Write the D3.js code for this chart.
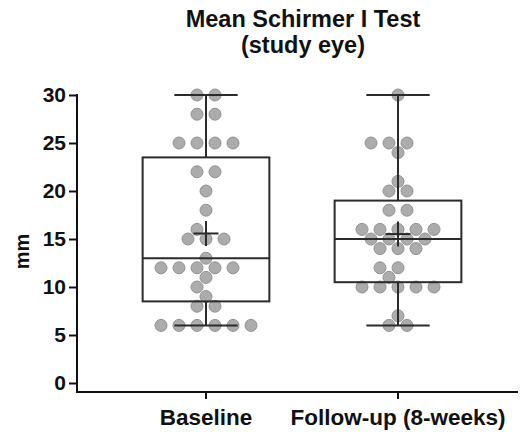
<!DOCTYPE html>
<html>
<head>
<meta charset="utf-8">
<script src="https://cdn.jsdelivr.net/npm/d3@7"></script>
<style>
    body { margin: 0; background: #fff; }
    text { font-family: Arial, "Liberation Sans", sans-serif; font-weight: bold; fill: #111; }
</style>
</head>
<body>
<div id="canvas"></div>
<script>
"use strict"

/* chart values */
let categories = ["Baseline", "Follow-up (8-weeks)"];
let baselineValues = [30, 30, 28, 28, 25, 25, 25, 25, 22, 22, 20, 18, 16, 15, 15, 15, 13,
    12, 12, 12, 12, 12, 11, 10, 9, 8, 8, 6, 6, 6, 6, 6, 6];
let followUpValues = [30, 25, 25, 25, 24, 21, 20, 20, 18, 18, 16, 16, 16, 16, 16, 15, 15, 15, 15,
    14, 14, 14, 12, 12, 11, 10, 10, 10, 10, 10, 7, 6, 6];
let yTicks = [0, 5, 10, 15, 20, 25, 30];
let titleLines = ["Mean Schirmer I Test", "(study eye)"];
let yLabel = "mm";

let seriesValues = [baselineValues, followUpValues];

/* svg canvas */
let drawing = d3.select("#canvas")
    .append("svg")
    .attr("width", 521)
    .attr("height", 432);

/* scales */
let xScale = d3.scaleBand()
    .domain(categories)
    .range([110, 494])
    .paddingInner(0.34)
    .paddingOuter(0.17);

let yScale = d3.scaleLinear()
    .domain([0, 30])
    .range([383, 95]);

let axisLeft = 77;
let axisBottom = 392;
let dotRadius = 6;

/* GraphPad style percentile: position (n+1)p */
function percentile(sorted, p) {
    let n = sorted.length;
    let pos = (n + 1) * p;
    let lo = Math.floor(pos);
    if (lo < 1) return sorted[0];
    if (lo >= n) return sorted[n - 1];
    let frac = pos - lo;
    return sorted[lo - 1] + frac * (sorted[lo] - sorted[lo - 1]);
}

/* simple row beeswarm: each value row is spread evenly, the row centre is
   shifted on a half-step grid until it does not hit rows already placed */
function swarm(values) {
    let rows = d3.rollups(values, v => v.length, d => d).sort((a, b) => a[0] - b[0]);
    let step = dotRadius * 3;
    let placed = [];
    rows.forEach(function (row) {
        let y = yScale(row[0]);
        let k = row[1];
        for (let j = 0; j < 20; j++) {
            let shift = (j % 2 === 0 ? 1 : -1) * Math.ceil(j / 2) * step / 2;
            let xs = d3.range(k).map(i => shift + (i - (k - 1) / 2) * step);
            let hit = xs.some(x => placed.some(p =>
                (p.x - x) * (p.x - x) + (p.y - y) * (p.y - y) < (2 * dotRadius - 0.5) * (2 * dotRadius - 0.5)));
            if (!hit) {
                xs.forEach(x => placed.push({ x: x, y: y, value: row[0] }));
                break;
            }
        }
    });
    return placed;
}

/* title */
drawing.append("text")
    .attr("x", 303)
    .attr("y", 27)
    .attr("text-anchor", "middle")
    .style("font-size", "23.5px")
    .text(titleLines[0]);

drawing.append("text")
    .attr("x", 303)
    .attr("y", 53)
    .attr("text-anchor", "middle")
    .style("font-size", "23.5px")
    .text(titleLines[1]);

/* dots first, the box lines sit on top of them */
seriesValues.forEach(function (values, i) {
    let cx = xScale(categories[i]) + xScale.bandwidth() / 2;
    drawing.append("g")
        .selectAll("circle")
        .data(swarm(values))
        .join("circle")
        .attr("cx", d => cx + d.x)
        .attr("cy", d => d.y)
        .attr("r", dotRadius)
        .attr("fill", "#acacac")
        .attr("stroke", "#929292")
        .attr("stroke-width", 1);
});

/* box and whiskers */
seriesValues.forEach(function (values, i) {
    let sorted = values.slice().sort((a, b) => a - b);
    let q1 = percentile(sorted, 0.25);
    let med = percentile(sorted, 0.5);
    let q3 = percentile(sorted, 0.75);
    let lo = sorted[0];
    let hi = sorted[sorted.length - 1];
    let mean = d3.mean(values);

    let left = xScale(categories[i]);
    let w = xScale.bandwidth();
    let cx = left + w / 2;
    let capHalf = w / 4;
    let g = drawing.append("g")
        .attr("stroke", "#2b2b2b")
        .attr("stroke-width", 2)
        .attr("fill", "none");

    /* whiskers */
    g.append("line").attr("x1", cx).attr("x2", cx).attr("y1", yScale(hi)).attr("y2", yScale(q3));
    g.append("line").attr("x1", cx).attr("x2", cx).attr("y1", yScale(q1)).attr("y2", yScale(lo));
    g.append("line").attr("x1", cx - capHalf).attr("x2", cx + capHalf).attr("y1", yScale(hi)).attr("y2", yScale(hi));
    g.append("line").attr("x1", cx - capHalf).attr("x2", cx + capHalf).attr("y1", yScale(lo)).attr("y2", yScale(lo));

    /* box */
    g.append("rect")
        .attr("x", left)
        .attr("y", yScale(q3))
        .attr("width", w)
        .attr("height", yScale(q1) - yScale(q3));

    /* median */
    g.append("line").attr("x1", left).attr("x2", left + w).attr("y1", yScale(med)).attr("y2", yScale(med));

    /* mean cross */
    g.append("line").attr("x1", cx - 12.5).attr("x2", cx + 12.5).attr("y1", yScale(mean)).attr("y2", yScale(mean));
    g.append("line").attr("x1", cx).attr("x2", cx).attr("y1", yScale(mean) - 12.5).attr("y2", yScale(mean) + 12.5);
});

/* y axis */
let yAxis = drawing.append("g")
    .attr("transform", "translate(" + axisLeft + ",0)")
    .call(d3.axisLeft(yScale).tickValues(yTicks).tickSize(8).tickPadding(3));
yAxis.select(".domain").remove();
yAxis.selectAll(".tick line").attr("stroke", "#111").attr("stroke-width", 2);
yAxis.selectAll(".tick text")
    .style("font-size", "21px")
    .attr("fill", "#111")
    .attr("font-family", null);

drawing.append("line")
    .attr("x1", axisLeft)
    .attr("x2", axisLeft)
    .attr("y1", yScale(30) - 1)
    .attr("y2", axisBottom + 1)
    .attr("stroke", "#111")
    .attr("stroke-width", 2);

/* x axis */
let xAxis = drawing.append("g")
    .attr("transform", "translate(0," + axisBottom + ")")
    .call(d3.axisBottom(xScale).tickSize(7).tickPadding(10));
xAxis.select(".domain").remove();
xAxis.selectAll(".tick line").attr("stroke", "#111").attr("stroke-width", 2);
xAxis.selectAll(".tick text")
    .style("font-size", "22.5px")
    .attr("fill", "#111")
    .attr("font-family", null);

drawing.append("line")
    .attr("x1", axisLeft)
    .attr("x2", 518)
    .attr("y1", axisBottom)
    .attr("y2", axisBottom)
    .attr("stroke", "#111")
    .attr("stroke-width", 2);

/* y label */
drawing.append("text")
    .attr("transform", "translate(29," + yScale(13.7) + ") rotate(-90)")
    .attr("text-anchor", "middle")
    .style("font-size", "20px")
    .text(yLabel);
</script>
</body>
</html>
